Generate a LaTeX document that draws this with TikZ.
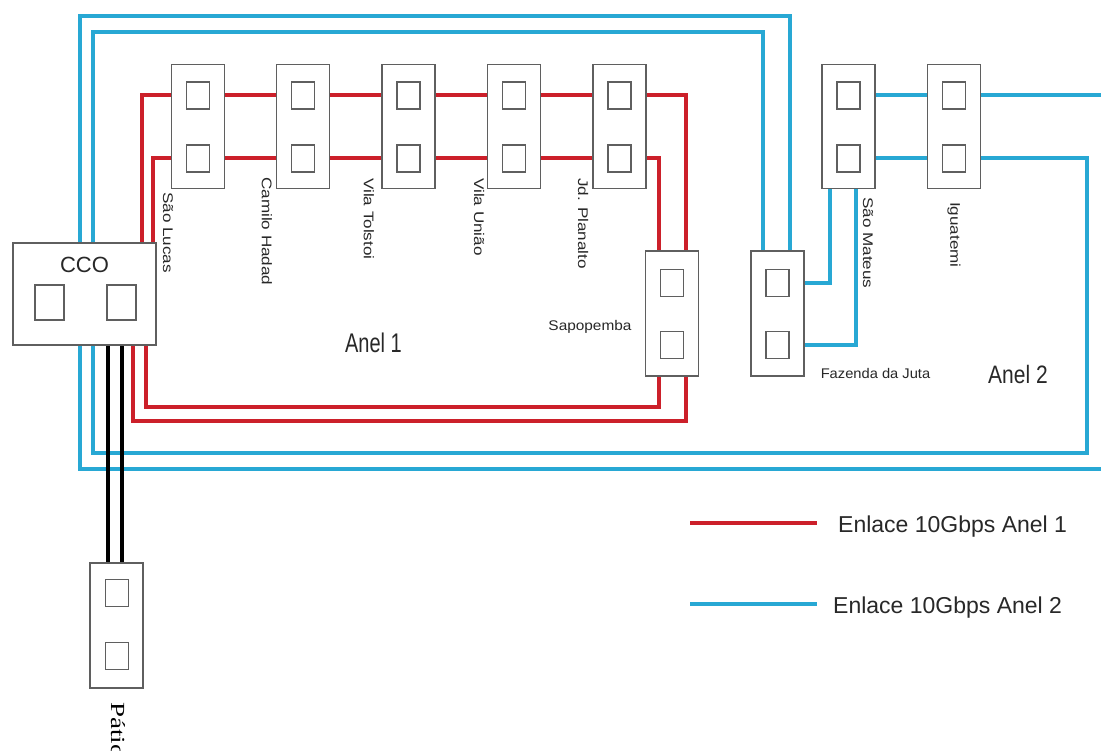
\documentclass[tikz,border=0pt]{standalone}
\usepackage{fontspec}
\setmainfont{Liberation Sans}
\newfontfamily\serifface{Liberation Serif}
\usetikzlibrary{calc}
\definecolor{ringred}{RGB}{204,32,42}
\definecolor{ringblue}{RGB}{40,168,212}
\definecolor{boxgray}{RGB}{95,95,95}
\definecolor{txtgray}{RGB}{40,40,40}
\pgfdeclarelayer{paper}
\pgfdeclarelayer{wires}
\pgfsetlayers{paper,wires,main}
\tikzset{
  dev/.style={draw=boxgray, line width=1.8pt, fill=white, inner sep=0pt, minimum width=53pt, minimum height=124pt},
  port/.style={draw=boxgray, line width=1.5pt, fill=white, inner sep=0pt, minimum width=23pt, minimum height=27pt},
  redl/.style={draw=ringred, line width=4pt},
  bluel/.style={draw=ringblue, line width=4pt},
  blkl/.style={draw=black, line width=3.5pt},
  vlabel/.style={rotate=-90, anchor=west, inner sep=0pt, font=\fontsize{14}{14}\selectfont, text=txtgray},
  hlabel/.style={inner sep=0pt, text=txtgray},
}
\newcommand\hs[2]{\scalebox{#1}[1]{#2}}
\newcommand\vs[2]{\scalebox{1}[#1]{#2}}
\begin{document}
\begin{tikzpicture}[x=1pt,y=-1pt]
\useasboundingbox (0,0) rectangle (1101,751);
\begin{pgfonlayer}{paper}
  \fill[white] (0,0) rectangle (1101,751);
\end{pgfonlayer}

% top row devices
\foreach \n/\x in {sl/198, ch/303, vt/408.5, vu/514, jp/619.5, sm/848.5, ig/954} {
  \node[dev] (\n) at (\x,126.5) {};
  \node[port] (\n-a) at (\x,95.5) {};
  \node[port] (\n-b) at (\x,158.5) {};
}
% lower devices
\foreach \n/\x in {sp/672, fj/777.5} {
  \node[dev, minimum height=125pt] (\n) at (\x,313.5) {};
  \node[port] (\n-a) at (\x,283) {};
  \node[port] (\n-b) at (\x,345) {};
}
\node[dev, minimum height=125pt] (pt) at (116.5,625.5) {};
\node[port] (pt-a) at (117,593) {};
\node[port] (pt-b) at (117,656) {};

% CCO
\node[dev, minimum width=143pt, minimum height=102pt] (cco) at (84.5,294) {};
\node[port, minimum width=29pt, minimum height=35pt] (cco-a) at (49.5,302.5) {};
\node[port, minimum width=29pt, minimum height=35pt] (cco-b) at (121.5,302.5) {};
\node[hlabel, font=\fontsize{22}{22}\selectfont] (ccol) at (84.5,265) {CCO};

% labels
\node[vlabel] (sll) at (168,192) {\hs{1.22}{São Lucas}};
\node[vlabel] (chl) at (267,177) {\hs{1.22}{Camilo Hadad}};
\node[vlabel] (vtl) at (369,178) {\hs{1.22}{Vila Tolstoi}};
\node[vlabel] (vul) at (479,178) {\hs{1.22}{Vila União}};
\node[vlabel] (jpl) at (583,178) {\hs{1.22}{Jd. Planalto}};
\node[vlabel] (sml) at (868,197) {\hs{1.22}{São Mateus}};
\node[vlabel] (igl) at (954,202) {\hs{1.22}{Iguatemi}};
\node[hlabel, font=\fontsize{14}{14}\selectfont] (spl) at (590,327) {\hs{1.1}{Sapopemba}};
\node[hlabel, font=\fontsize{14}{14}\selectfont] (fjl) at (875.5,373) {\hs{1.05}{Fazenda da Juta}};
\node[hlabel, font=\fontsize{20}{20}\selectfont] (a1) at (373.5,343) {\vs{1.35}{Anel 1}};
\node[hlabel, font=\fontsize{21}{21}\selectfont] (a2) at (1018,374) {\vs{1.2}{Anel 2}};
\node[rotate=-90, anchor=west, inner sep=0pt, font=\serifface\fontsize{20}{20}\selectfont] (ptl) at (118.5,702) {\hs{1.35}{Pátio}};

% free ends
\coordinate (e1) at (1101,95.5);
\coordinate (e2) at (1101,469);

\begin{pgfonlayer}{wires}
  % Anel 1 (red)
  \draw[redl] (sl-a.center) -- (ch-a.center) -- (vt-a.center) -- (vu-a.center) -- (jp-a.center);
  \draw[redl] (sl-b.center) -- (ch-b.center) -- (vt-b.center) -- (vu-b.center) -- (jp-b.center);
  \draw[redl] (sl-a.center) -| (142,294) -- (133,294) |- (685.5,421) -- (685.5,313.5) |- (jp-a.center);
  \draw[redl] (sl-b.center) -| (153,294) -- (146,294) |- (659,407) -- (659,313.5) |- (jp-b.center);
  % Anel 2 (blue)
  \draw[bluel] (sm-a.center) -- (ig-a.center) -- (e1);
  \draw[bluel] (sm-b.center) -- (ig-b.center);
  \draw[bluel] (fj-a.center) -| (830,126.5);
  \draw[bluel] (fj-b.center) -| (856,126.5);
  \draw[bluel] (790,313.5) |- (80,16) |- (e2);
  \draw[bluel] (763,313.5) |- (93,32) |- (1087,452.5) |- (ig-b.center);
  % CCO - Patio
  \draw[blkl] (108,294) -- (108,625);
  \draw[blkl] (122,294) -- (122,625);
\end{pgfonlayer}

% legend
\coordinate (lg1a) at (690,523);
\coordinate (lg1b) at (817,523);
\coordinate (lg2a) at (690,604);
\coordinate (lg2b) at (817,604);
\draw[redl, line width=3.5pt] (lg1a) -- (lg1b);
\draw[bluel] (lg2a) -- (lg2b);
\node[hlabel, anchor=west, font=\fontsize{23}{23}\selectfont] (lg1t) at (838,527) {Enlace 10Gbps Anel 1};
\node[hlabel, anchor=west, font=\fontsize{23}{23}\selectfont] (lg2t) at (833,608) {Enlace 10Gbps Anel 2};
\end{tikzpicture}
\end{document}
